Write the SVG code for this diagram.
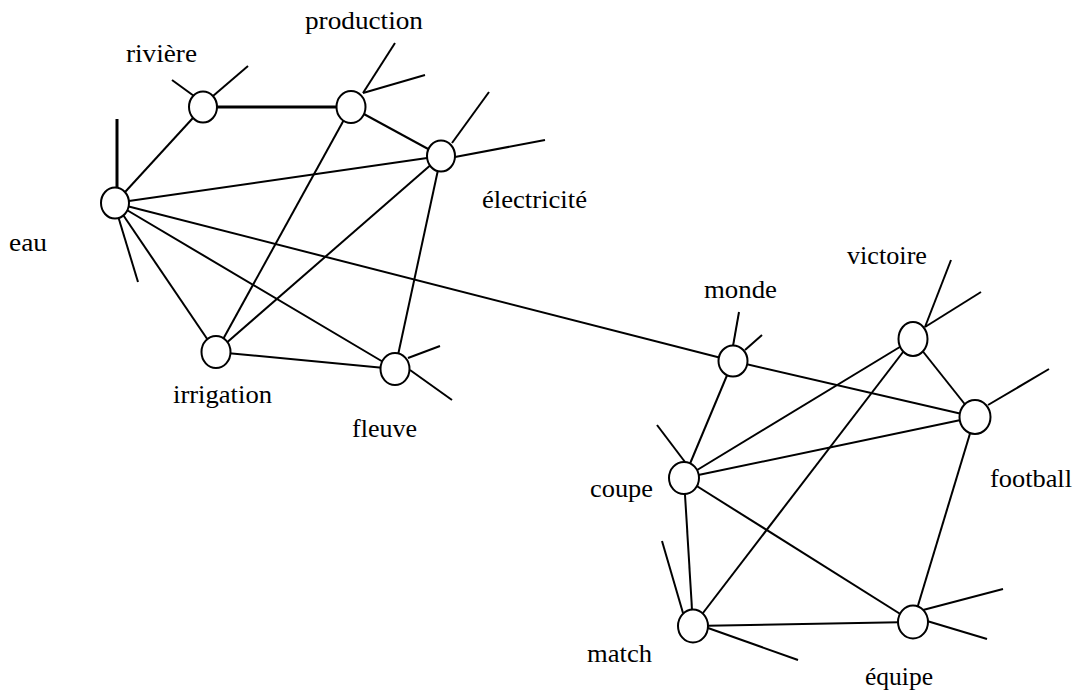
<svg xmlns="http://www.w3.org/2000/svg" width="1079" height="693" viewBox="0 0 1079 693">
<style>
.e{stroke:#000;stroke-width:2;fill:none;stroke-linecap:butt}
.t{stroke-width:3}
.n{fill:#fff;stroke:#000;stroke-width:2}
.l{font-family:"Liberation Serif","Times New Roman",serif;font-size:26px;fill:#000}
</style>
<rect width="1079" height="693" fill="#fff"/>
<g id="connectors">
<line class="e" x1="115" y1="203" x2="203" y2="107"/>
<line class="e" x1="115" y1="203" x2="441" y2="156"/>
<line class="e" x1="115" y1="203" x2="216" y2="352"/>
<line class="e" x1="115" y1="203" x2="395" y2="369"/>
<line class="e" x1="115" y1="203" x2="733" y2="361"/>
<line class="e t" x1="203" y1="107" x2="351" y2="107"/>
<line class="e" x1="351" y1="107" x2="441" y2="156"/>
<line class="e" x1="351" y1="107" x2="216" y2="352"/>
<line class="e" x1="441" y1="156" x2="216" y2="352"/>
<line class="e" x1="441" y1="156" x2="395" y2="369"/>
<line class="e" x1="216" y1="352" x2="395" y2="369"/>
<line class="e" x1="733" y1="361" x2="684" y2="478"/>
<line class="e" x1="733" y1="361" x2="975" y2="417"/>
<line class="e" x1="913" y1="339" x2="684" y2="478"/>
<line class="e" x1="913" y1="339" x2="693" y2="626"/>
<line class="e" x1="913" y1="339" x2="975" y2="417"/>
<line class="e" x1="975" y1="417" x2="684" y2="478"/>
<line class="e" x1="975" y1="417" x2="913" y2="622"/>
<line class="e" x1="684" y1="478" x2="693" y2="626"/>
<line class="e" x1="684" y1="478" x2="913" y2="622"/>
<line class="e" x1="693" y1="626" x2="913" y2="622"/>
<!-- stubs -->
<line class="e t" x1="117" y1="190" x2="117" y2="119"/>
<line class="e" x1="118" y1="216" x2="138" y2="282"/>
<line class="e" x1="194" y1="96" x2="172" y2="80"/>
<line class="e" x1="213" y1="96" x2="248" y2="66"/>
<line class="e" x1="363" y1="93" x2="395" y2="43"/>
<line class="e" x1="363" y1="93" x2="425" y2="75"/>
<line class="e" x1="452" y1="143" x2="489" y2="92"/>
<line class="e" x1="455" y1="157" x2="545" y2="140"/>
<line class="e" x1="408" y1="358" x2="440" y2="346"/>
<line class="e" x1="410" y1="370" x2="452" y2="400"/>
<line class="e" x1="733" y1="346" x2="739" y2="312"/>
<line class="e" x1="745" y1="350" x2="762" y2="335"/>
<line class="e" x1="925" y1="327" x2="951" y2="260"/>
<line class="e" x1="925" y1="327" x2="981" y2="292"/>
<line class="e" x1="988" y1="405" x2="1049" y2="369"/>
<line class="e" x1="685" y1="462" x2="657" y2="425"/>
<line class="e" x1="683" y1="613" x2="662" y2="541"/>
<line class="e" x1="708" y1="628" x2="798" y2="660"/>
<line class="e" x1="923" y1="610" x2="1003" y2="589"/>
<line class="e" x1="927" y1="621" x2="987" y2="639"/>
</g>
<g id="eau"><ellipse class="n" cx="115" cy="203" rx="14" ry="15.5"/><text class="l" x="9" y="251" textLength="38" lengthAdjust="spacingAndGlyphs">eau</text></g>
<g id="riviere"><ellipse class="n" cx="203" cy="107" rx="14" ry="15.5"/><text class="l" x="126" y="62" textLength="71" lengthAdjust="spacingAndGlyphs">rivière</text></g>
<g id="production"><ellipse class="n" cx="351" cy="107" rx="14.5" ry="16"/><text class="l" x="305" y="29" textLength="118" lengthAdjust="spacingAndGlyphs">production</text></g>
<g id="electricite"><ellipse class="n" cx="441" cy="156" rx="14" ry="15.5"/><text class="l" x="482" y="208" textLength="105" lengthAdjust="spacingAndGlyphs">électricité</text></g>
<g id="irrigation"><ellipse class="n" cx="216" cy="352" rx="14.5" ry="16"/><text class="l" x="173" y="403" textLength="99" lengthAdjust="spacingAndGlyphs">irrigation</text></g>
<g id="fleuve"><ellipse class="n" cx="395" cy="369" rx="14.5" ry="16"/><text class="l" x="352" y="437" textLength="65" lengthAdjust="spacingAndGlyphs">fleuve</text></g>
<g id="monde"><ellipse class="n" cx="733" cy="361" rx="14.5" ry="15.5"/><text class="l" x="704" y="298" textLength="73" lengthAdjust="spacingAndGlyphs">monde</text></g>
<g id="victoire"><ellipse class="n" cx="913" cy="339" rx="14.5" ry="17"/><text class="l" x="847" y="264" textLength="80" lengthAdjust="spacingAndGlyphs">victoire</text></g>
<g id="football"><ellipse class="n" cx="975" cy="417" rx="15.5" ry="17"/><text class="l" x="990" y="487" textLength="82" lengthAdjust="spacingAndGlyphs">football</text></g>
<g id="coupe"><ellipse class="n" cx="684" cy="478" rx="15" ry="16"/><text class="l" x="590" y="497" textLength="63" lengthAdjust="spacingAndGlyphs">coupe</text></g>
<g id="match"><ellipse class="n" cx="693" cy="626" rx="15" ry="16.5"/><text class="l" x="587" y="662" textLength="65" lengthAdjust="spacingAndGlyphs">match</text></g>
<g id="equipe"><ellipse class="n" cx="913" cy="622" rx="15" ry="16.5"/><text class="l" x="865" y="685" textLength="68" lengthAdjust="spacingAndGlyphs">équipe</text></g>
</svg>
